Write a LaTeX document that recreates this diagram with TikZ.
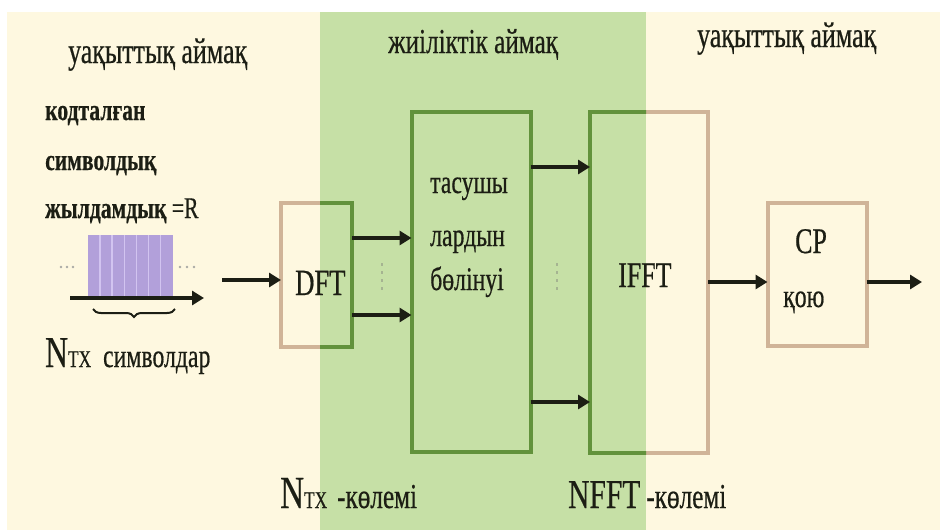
\documentclass[tikz,border=0pt]{standalone}
\usepackage{fontspec}
\setmainfont{Liberation Serif}[FakeStretch=0.72,FakeBold=0.5]
\usetikzlibrary{arrows.meta,decorations.pathreplacing}
\definecolor{cream}{RGB}{254,248,224}
\definecolor{zone}{RGB}{198,224,166}
\definecolor{gline}{RGB}{98,146,60}
\definecolor{tline}{RGB}{208,180,152}
\definecolor{pulsec}{RGB}{178,160,218}
\definecolor{pulsel}{RGB}{210,196,240}
\definecolor{ink}{RGB}{28,30,20}
\definecolor{dotc}{RGB}{165,180,145}
\definecolor{dotg}{RGB}{170,170,165}
\newcommand{\fsz}[1]{\fontsize{#1}{#1}\selectfont}
\begin{document}
\begin{tikzpicture}[x=1pt,y=-1pt,
  txt/.style={inner sep=0pt,anchor=base west,text=ink},
  box/.style={draw=tline,line width=4pt,inner sep=0pt,outer sep=0pt},
  arr/.style={draw=ink,line width=3.8pt,-{Triangle[length=12pt,width=14pt]}},
]
\useasboundingbox (0,0) rectangle (940,530);
\fill[white] (0,0) rectangle (940,530);
\fill[cream] (7,12) rectangle (940,530);
\fill[zone] (320,12) rectangle (646,530);

% boxes
\node[box,minimum width=71pt,minimum height=144pt] (dft) at (316.5,274.5) {};
\node[box,minimum width=119pt,minimum height=340pt] (div) at (471,282) {};
\node[box,minimum width=118pt,minimum height=341pt] (ifft) at (649,282.5) {};
\node[box,minimum width=99pt,minimum height=143pt] (cp) at (817,274.5) {};
\begin{scope}
  \clip (320,12) rectangle (646,530);
  \foreach \n in {dft,div,ifft}
    \draw[gline,line width=4pt] (\n.south west) rectangle (\n.north east);
\end{scope}

% titles
\node[txt,font=\fsz{36}] (tl) at (68,63) {уақыттық аймақ};
\node[txt,font=\fsz{35}] (tm) at (388,53) {жиіліктік аймақ};
\node[txt,font=\fsz{36}] (tr) at (697,47) {уақыттық аймақ};

% left labels
\node[txt,font=\bfseries\fsz{30}] (l1) at (45,120) {кодталған};
\node[txt,font=\bfseries\fsz{30}] (l2) at (45,170) {символдық};
\node[txt,font=\bfseries\fsz{30}] (l3) at (45,218) {жылдамдық {\mdseries =R}};
\node[txt] (nsym) at (45,367) {{\fsz{44}N}{\fsz{24}TX}\hspace{12pt}{\fsz{33}символдар}};

% pulse
\fill[pulsec] (88,235) rectangle (173,298);
\foreach \k in {1,...,6}
  \draw[pulsel,line width=1.5pt] (88+12.1*\k,235) -- (88+12.1*\k,298);
\foreach \xx in {61,67,73,180,187,194}
  \fill[dotg] (\xx,267) circle (1.3pt);
\coordinate (ax0) at (70,298);
\coordinate (ax1) at (204,298);
\draw[arr] (ax0) -- (ax1);
\draw[ink,line width=2pt,decorate,decoration={brace,amplitude=8pt,mirror}] (93,309) -- (175,309);

% block texts
\node[txt,font=\fsz{37}] (dftt) at (295,295) {DFT};
\node[txt,font=\fsz{33}] (d1) at (430,193) {тасушы};
\node[txt,font=\fsz{33}] (d2) at (430,246) {лардын};
\node[txt,font=\fsz{33}] (d3) at (430,290) {бөлінуі};
\node[txt,font=\fsz{36}] (iffft) at (618,287) {IFFT};
\node[txt,font=\fsz{36}] (cpt) at (795,253) {CP};
\node[txt,font=\fsz{33}] (cpq) at (783,307) {қою};

% bottom labels
\node[txt] (b1) at (280,508) {{\fsz{46}N}{\fsz{24}TX}\hspace{10pt}{\fsz{35}-көлемі}};
\node[txt] (b2) at (568,508) {{\fsz{41}NFFT}\hspace{6pt}{\fsz{35}-көлемі}};

% connectors
\coordinate (in) at (222,280);
\coordinate (ya) at (0,238);
\coordinate (yb) at (0,315);
\coordinate (yc) at (0,167);
\coordinate (yd) at (0,402);
\coordinate (ye) at (0,282);
\coordinate (out) at (922,282);
\draw[arr] (in) -- (dft.west |- in);
\draw[arr] (dft.east |- ya) -- (div.west |- ya);
\draw[arr] (dft.east |- yb) -- (div.west |- yb);
\draw[arr] (div.east |- yc) -- (ifft.west |- yc);
\draw[arr] (div.east |- yd) -- (ifft.west |- yd);
\draw[arr] (ifft.east |- ye) -- (cp.west |- ye);
\draw[arr] (cp.east |- ye) -- (out);

% vertical dots
\draw[dotc,line width=2.2pt,dash pattern=on 3pt off 5pt] (382,263) -- (382,294);
\draw[dotc,line width=2.2pt,dash pattern=on 3pt off 5pt] (557,263) -- (557,294);
\end{tikzpicture}
\end{document}
